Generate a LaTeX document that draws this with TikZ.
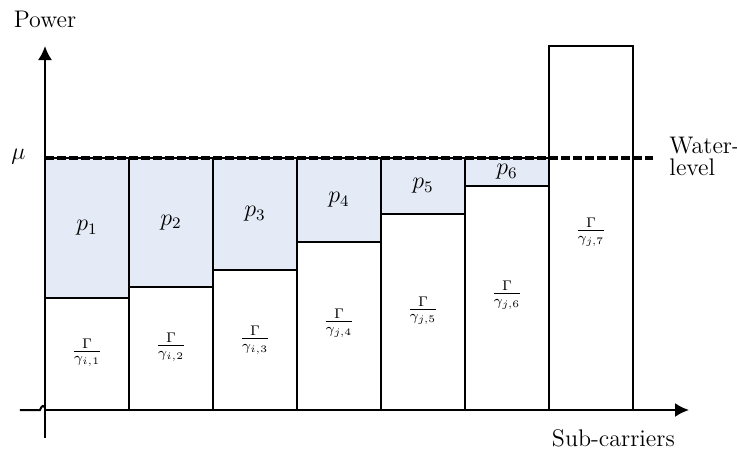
\documentclass[tikz,border=0pt]{standalone}
\usepackage{amsmath,amssymb}
\usepackage{tikz}
\usetikzlibrary{arrows.meta}

\definecolor{waterblue}{RGB}{228,235,246}
\tikzset{
  barline/.style={line width=1pt},
  pwrfill/.style={fill=waterblue, line width=1pt},
  axisline/.style={line width=1pt, -{Latex[length=7pt,width=7pt]}},
  lbl/.style={font=\large},
}

\begin{document}
\begin{tikzpicture}[x=14pt, y=14pt]
    \useasboundingbox (-1.607,-1.571) rectangle (24.714,14.643);

    % power poured above each bar
    \filldraw[pwrfill] (0,4) rectangle (3,9);
    \filldraw[pwrfill] (3,4.4) rectangle (6,9);
    \filldraw[pwrfill] (6,5) rectangle (9,9);
    \filldraw[pwrfill] (9,6) rectangle (12,9);
    \filldraw[pwrfill] (12,7) rectangle (15,9);
    \filldraw[pwrfill] (15,8) rectangle (18,9);

    % the Gamma/gamma bars
    \draw[barline] (0,0) rectangle (3,4);
    \draw[barline] (3,0) rectangle (6,4.4);
    \draw[barline] (6,0) rectangle (9,5);
    \draw[barline] (9,0) rectangle (12,6);
    \draw[barline] (12,0) rectangle (15,7);
    \draw[barline] (15,0) rectangle (18,8);
    \draw[barline] (18,0) rectangle (21,13);

    % water level
    \draw[line width=1.8pt, dash pattern=on 4.5pt off 1.5pt] (0,9) -- (21.7,9);

    % axes
    \draw[axisline] (0,-1) -- (0,13);
    \draw[barline] (-0.9,0) -- (-0.18,0) .. controls (-0.1,0.2) and (-0.05,0.15) .. (0,0.1);
    \draw[axisline] (0,0) -- (23,0);

    \node[lbl] (power) at (0,13.95) {Power};
    \node[lbl] (mu) at (-0.95,9.05) {$\mu$};
    \node[lbl, anchor=west, align=left] (wlevel) at (22.05,9.05) {Water-\\[-3pt]level};
    \node[lbl] (subc) at (20.3,-1) {Sub-carriers};

    \node[lbl] (p1) at (1.5,6.5) {$p_1$};
    \node[lbl] (p2) at (4.5,6.7) {$p_2$};
    \node[lbl] (p3) at (7.5,7) {$p_3$};
    \node[lbl] (p4) at (10.5,7.5) {$p_4$};
    \node[lbl] (p5) at (13.5,8) {$p_5$};
    \node[lbl] (p6) at (16.5,8.5) {$p_6$};

    \node (g1) at (1.5,2.05) {$\frac{\Gamma}{\gamma_{i,1}}$};
    \node (g2) at (4.5,2.25) {$\frac{\Gamma}{\gamma_{i,2}}$};
    \node (g3) at (7.5,2.5) {$\frac{\Gamma}{\gamma_{i,3}}$};
    \node (g4) at (10.5,3.1) {$\frac{\Gamma}{\gamma_{j,4}}$};
    \node (g5) at (13.5,3.55) {$\frac{\Gamma}{\gamma_{j,5}}$};
    \node (g6) at (16.5,4.1) {$\frac{\Gamma}{\gamma_{j,6}}$};
    \node (g7) at (19.5,6.35) {$\frac{\Gamma}{\gamma_{j,7}}$};
  \end{tikzpicture}
\end{document}
